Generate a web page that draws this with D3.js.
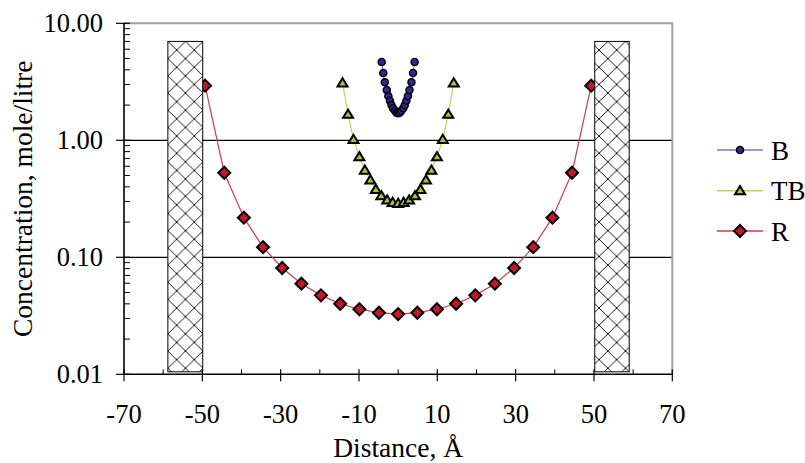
<!DOCTYPE html>
<html>
<head>
<meta charset="utf-8">
<script src="https://cdn.jsdelivr.net/npm/d3@7"></script>
<style>
  html, body { margin: 0; padding: 0; background: #fff; }
  svg { display: block; }
  text { font-family: "Liberation Serif", "Times New Roman", serif; fill: #000; }
</style>
</head>
<body>
<svg id="chart" width="805" height="463"></svg>
<script>
// Concentration profiles across the gap (Å) for three species
const seriesNames = ["B", "TB", "R"];

const bX = [-4.2, -3.8, -3.4, -2.9, -2.5, -2.1, -1.7, -1.3, -0.8, -0.4, 0, 0.4, 0.8, 1.3, 1.7, 2.1, 2.5, 2.9, 3.4, 3.8, 4.2];
const bY = [4.67, 3.76, 3.13, 2.69, 2.39, 2.18, 2.00, 1.88, 1.79, 1.72, 1.70, 1.72, 1.79, 1.88, 2.00, 2.18, 2.39, 2.69, 3.13, 3.76, 4.67];

const tbX = [-14.2, -12.8, -11.4, -9.9, -8.5, -7.1, -5.7, -4.3, -2.8, -1.4, 0, 1.4, 2.8, 4.3, 5.7, 7.1, 8.5, 9.9, 11.4, 12.8, 14.2];
const tbY = [3.10, 1.67, 1.02, 0.724, 0.557, 0.458, 0.381, 0.336, 0.309, 0.295, 0.289, 0.295, 0.309, 0.336, 0.381, 0.458, 0.557, 0.724, 1.02, 1.67, 3.10];

const rX = [-49.3, -44.4, -39.4, -34.5, -29.6, -24.7, -19.7, -14.8, -9.9, -4.9, 0, 4.9, 9.9, 14.8, 19.7, 24.7, 29.6, 34.5, 39.4, 44.4, 49.3];
const rY = [2.93, 0.528, 0.218, 0.122, 0.081, 0.0595, 0.0473, 0.0401, 0.0360, 0.0336, 0.0327, 0.0336, 0.0360, 0.0401, 0.0473, 0.0595, 0.081, 0.122, 0.218, 0.528, 2.93];

// Walls (hatched slabs) on either side
const wallX0 = [-58.8, 50.2];
const wallX1 = [-49.9, 59.0];
const wallTop = 7.0;
const wallBottom = 0.0105;

const xTickValues = [-70, -50, -30, -10, 10, 30, 50, 70];
const xMinorValues = [-60, -40, -20, 0, 20, 40, 60];
const yTickValues = [0.01, 0.1, 1, 10];
const yTickLabels = ["0.01", "0.10", "1.00", "10.00"];
const yGridValues = [0.1, 1];

const svg = d3.select("#chart");
const plotLeft = 124, plotRight = 672.3, plotTop = 23.3, plotBottom = 374.3;

const x = d3.scaleLinear().domain([-70, 70]).range([plotLeft, plotRight]);
const y = d3.scaleLog().domain([0.01, 10]).range([plotBottom, plotTop]);

// hatch pattern for the walls
const defs = svg.append("defs");
const hw = 17.6, hh = 17.2;
const pat = defs.append("pattern")
  .attr("id", "hatch").attr("patternUnits", "userSpaceOnUse")
  .attr("x", x(wallX0[0])).attr("y", y(wallTop))
  .attr("width", hw).attr("height", hh);
pat.append("rect").attr("width", hw).attr("height", hh).attr("fill", "#fff");
pat.append("path")
  .attr("d", `M0,0L${hw},${hh}M${hw},0L0,${hh}`)
  .attr("stroke", "#000").attr("stroke-width", 0.9).attr("fill", "none");

// gridlines
svg.append("g").selectAll("line").data(yGridValues).join("line")
  .attr("x1", plotLeft).attr("x2", plotRight)
  .attr("y1", d => y(d)).attr("y2", d => y(d))
  .attr("stroke", "#000").attr("stroke-width", 1.2);

// plot frame (top and right)
svg.append("path")
  .attr("d", `M${plotLeft},${plotTop}H${plotRight}V${plotBottom}`)
  .attr("fill", "none").attr("stroke", "#a0a0a0").attr("stroke-width", 2);

// series
const series = [
  { name: "B", xs: bX, ys: bY, line: "#7d76c9", fill: "#33268c", shape: "circle" },
  { name: "TB", xs: tbX, ys: tbY, line: "#b8db55", fill: "#a6c43a", shape: "triangle" },
  { name: "R", xs: rX, ys: rY, line: "#d23a52", fill: "#c81430", shape: "diamond" }
];

function markerPath(shape) {
  if (shape === "circle") return d3.symbol(d3.symbolCircle, 40)();
  if (shape === "triangle") return "M0,-4.6L5,3.6L-5,3.6Z";
  return "M0,-6L6,0L0,6L-6,0Z";
}
function markerStroke(shape) { return shape === "circle" ? 1.4 : 2; }

const lineGen = d3.line().x(d => x(d[0])).y(d => y(d[1]));

series.slice().reverse().forEach(s => {
  const pts = s.xs.map((v, i) => [v, s.ys[i]]);
  const g = svg.append("g");
  g.append("path").datum(pts).attr("d", lineGen)
    .attr("fill", "none").attr("stroke", s.line).attr("stroke-width", 1.2);
  g.selectAll("path.m").data(pts).join("path").attr("class", "m")
    .attr("transform", d => `translate(${x(d[0])},${y(d[1])})`)
    .attr("d", markerPath(s.shape))
    .attr("fill", s.fill).attr("stroke", "#000").attr("stroke-width", markerStroke(s.shape));
});

// walls
svg.append("g").selectAll("rect").data(wallX0).join("rect")
  .attr("x", (d, i) => x(d)).attr("width", (d, i) => x(wallX1[i]) - x(d))
  .attr("y", y(wallTop)).attr("height", y(wallBottom) - y(wallTop))
  .attr("fill", "url(#hatch)").attr("stroke", "#000").attr("stroke-width", 1);

// axes lines
svg.append("line").attr("x1", plotLeft).attr("x2", plotLeft).attr("y1", plotTop).attr("y2", plotBottom)
  .attr("stroke", "#000").attr("stroke-width", 1.6);
svg.append("line").attr("x1", plotLeft).attr("x2", plotRight).attr("y1", plotBottom).attr("y2", plotBottom)
  .attr("stroke", "#000").attr("stroke-width", 1.6);

// y ticks
const yMinor = [];
[0.01, 0.1, 1].forEach(dec => { for (let k = 2; k <= 9; k++) yMinor.push(dec * k); });
svg.append("g").selectAll("line").data(yMinor).join("line")
  .attr("x1", plotLeft).attr("x2", plotLeft + 6)
  .attr("y1", d => y(d)).attr("y2", d => y(d))
  .attr("stroke", "#000").attr("stroke-width", 1);
svg.append("g").selectAll("line").data(yTickValues).join("line")
  .attr("x1", plotLeft - 8).attr("x2", plotLeft + 6)
  .attr("y1", d => y(d)).attr("y2", d => y(d))
  .attr("stroke", "#000").attr("stroke-width", 1.2);
svg.append("g").selectAll("text").data(yTickValues).join("text")
  .attr("x", 103).attr("y", d => y(d) + 9)
  .attr("text-anchor", "end").attr("font-size", 26.5)
  .text((d, i) => yTickLabels[i]);

// x ticks
svg.append("g").selectAll("line").data(xMinorValues).join("line")
  .attr("x1", d => x(d)).attr("x2", d => x(d))
  .attr("y1", plotBottom - 5).attr("y2", plotBottom)
  .attr("stroke", "#000").attr("stroke-width", 1);
svg.append("g").selectAll("line").data(xTickValues).join("line")
  .attr("x1", d => x(d)).attr("x2", d => x(d))
  .attr("y1", plotBottom - 5).attr("y2", plotBottom + 7)
  .attr("stroke", "#000").attr("stroke-width", 1.2);
svg.append("g").selectAll("text").data(xTickValues).join("text")
  .attr("x", d => x(d)).attr("y", 423)
  .attr("text-anchor", "middle").attr("font-size", 26.5)
  .text(d => d);

// axis titles
svg.append("text").attr("x", x(0)).attr("y", 457)
  .attr("text-anchor", "middle").attr("font-size", 27.5)
  .text("Distance, Å");
svg.append("text")
  .attr("transform", `translate(32,${(plotTop + plotBottom) / 2}) rotate(-90)`)
  .attr("text-anchor", "middle").attr("font-size", 27.5)
  .text("Concentration, mole/litre");

// legend
const legY = [150, 190.7, 231];
const leg = svg.append("g").selectAll("g").data(series).join("g")
  .attr("transform", (d, i) => `translate(0,${legY[i]})`);
leg.append("line").attr("x1", 717).attr("x2", 763)
  .attr("stroke", d => d.line).attr("stroke-width", 1.4);
leg.append("path").attr("transform", "translate(740,0)")
  .attr("d", d => markerPath(d.shape))
  .attr("fill", d => d.fill).attr("stroke", "#000").attr("stroke-width", d => markerStroke(d.shape));
leg.append("text").attr("x", 771).attr("y", 9.5).attr("font-size", 27)
  .text(d => d.name);
</script>
</body>
</html>
